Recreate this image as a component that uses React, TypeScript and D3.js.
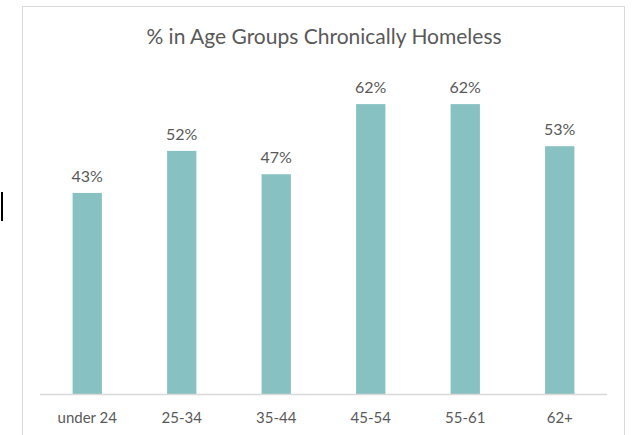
import React from "react";
import * as d3 from "d3";

const categories = ["under 24", "25-34", "35-44", "45-54", "55-61", "62+"];
const values = [0.43, 0.52, 0.47, 0.62, 0.62, 0.53];
const title = "% in Age Groups Chronically Homeless";

const W = 634;
const H = 435;
const FONT = "Lato, 'Open Sans', sans-serif";

export default function App() {
  const x = d3.scaleBand<string>().domain(categories).range([40, 607]).paddingInner(0.69).paddingOuter(0.345);
  const y = d3.scaleLinear().domain([0, 0.7]).range([394, 66.7]);
  const fmt = d3.format(".0%");
  return (
    <svg
      width={W}
      height={H}
      style={{ position: "fixed", left: 0, top: 0, background: "#fff" }}
      fontFamily={FONT}
    >
      <rect x={0} y={0} width={W} height={H} fill="#fff" />
      <rect x={22.5} y={6.5} width={602} height={460} fill="#fff" stroke="#d9d9d9" strokeWidth={1} />
      <rect x={1} y={192} width={2} height={29} fill="#000" />
      <text x={324} y={43.5} textAnchor="middle" fontSize={21} fill="#595959">
        {title}
      </text>
      {categories.map((c, i) => (
        <g key={c}>
          <rect
            x={x(c)!}
            y={y(values[i])}
            width={x.bandwidth()}
            height={y(0) - y(values[i])}
            fill="#88c1c1"
          />
          <text
            x={x(c)! + x.bandwidth() / 2}
            y={y(values[i]) - 11}
            textAnchor="middle"
            fontSize={16}
            fill="#595959"
          >
            {fmt(values[i])}
          </text>
          <text x={x(c)! + x.bandwidth() / 2} y={423} textAnchor="middle" fontSize={15} fill="#595959">
            {c}
          </text>
        </g>
      ))}
      <line x1={40} x2={607} y1={394.5} y2={394.5} stroke="#d9d9d9" strokeWidth={1.5} />
    </svg>
  );
}
